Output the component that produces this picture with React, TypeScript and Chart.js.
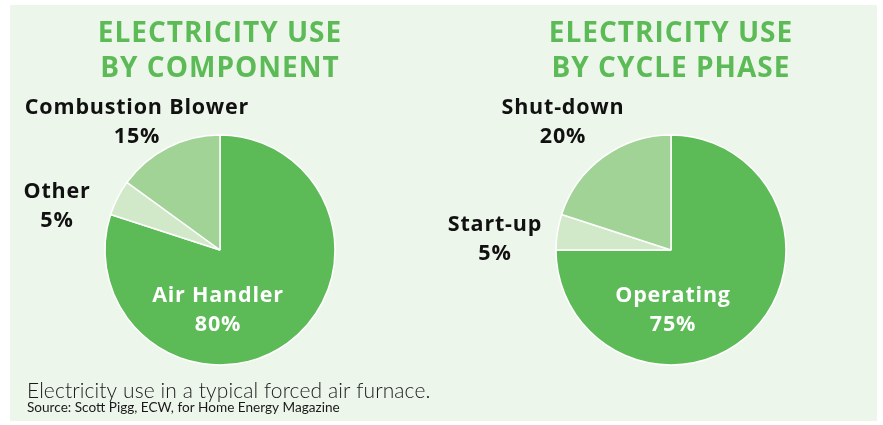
import React, { useEffect, useRef } from "react";
import { Chart, registerables } from "chart.js";

Chart.register(...registerables);

// ---- data ----
const componentCategories = ["Air Handler", "Other", "Combustion Blower"];
const componentValues = [80, 5, 15];
const phaseCategories = ["Operating", "Start-up", "Shut-down"];
const phaseValues = [75, 5, 20];
const componentTitle = ["ELECTRICITY USE", "BY COMPONENT"];
const phaseTitle = ["ELECTRICITY USE", "BY CYCLE PHASE"];
const captionText = "Electricity use in a typical forced air furnace.";
const sourceText = "Source: Scott Pigg, ECW, for Home Energy Magazine";

// ---- styles / layout ----
const sliceColors = ["#5cbb57", "#d1e9c8", "#a2d396"];
const labelColors = ["#ffffff", "#111111", "#111111"];
const titleColor = "#5cbb57";
const panelColor = "#edf6eb";
// label anchor offsets from pie centre (dx, baseline dy of first line)
const componentLabelOffsets = [
  [-2, 52],
  [-163, -52],
  [-83, -136],
];
const phaseLabelOffsets = [
  [2, 52],
  [-176, -19],
  [-108, -136],
];

type PieSpec = {
  categories: string[];
  values: number[];
  title: string[];
  offsets: number[][];
  padding: { left: number; right: number; top: number; bottom: number };
  width: number;
  caption: boolean;
};

const labelPlugin = {
  id: "customLabels",
  afterDatasetsDraw(chart: any, _args: any, opts: any) {
    const spec: PieSpec = opts.spec;
    const ctx = chart.ctx as any;
    const meta = chart.getDatasetMeta(0);
    const arc0 = meta.data[0];
    const cx = arc0.x;
    const cy = arc0.y;
    ctx.save();
    // titles
    ctx.textAlign = "center";
    ctx.textBaseline = "alphabetic";
    ctx.fillStyle = titleColor;
    ctx.font = "bold 28px 'Open Sans'";
    ctx.letterSpacing = "1px";
    ctx.fillText(spec.title[0], cx, 42);
    ctx.fillText(spec.title[1], cx, 77);
    // slice labels
    ctx.font = "bold 21.5px 'Open Sans'";
    ctx.letterSpacing = "0.8px";
    spec.categories.forEach((cat, i) => {
      const [dx, dy] = spec.offsets[i];
      ctx.fillStyle = labelColors[i];
      ctx.fillText(cat, cx + dx, cy + dy);
      ctx.fillText(spec.values[i] + "%", cx + dx, cy + dy + 29);
    });
    if (spec.caption) {
      ctx.textAlign = "left";
      ctx.fillStyle = "#1a1a1a";
      ctx.font = "300 21px Lato";
      ctx.letterSpacing = "0.1px";
      ctx.fillText(captionText, 27, 398);
      ctx.font = "13.6px Lato";
      ctx.letterSpacing = "0px";
      ctx.fillText(sourceText, 27, 412);
    }
    ctx.restore();
  },
};

function PieCanvas({ spec }: { spec: PieSpec }) {
  const ref = useRef<HTMLCanvasElement | null>(null);
  useEffect(() => {
    if (!ref.current) return;
    const chart = new Chart(ref.current, {
      type: "pie",
      data: {
        labels: spec.categories,
        datasets: [
          {
            data: spec.values,
            backgroundColor: sliceColors,
            borderColor: "#ffffff",
            borderWidth: 1.5,
          },
        ],
      },
      options: {
        animation: false,
        responsive: false,
        radius: 115,
        layout: { padding: spec.padding },
        plugins: {
          legend: { display: false },
          tooltip: { enabled: false },
          title: { display: false },
          customLabels: { spec },
        } as any,
      },
      plugins: [labelPlugin],
    });
    return () => chart.destroy();
  }, [spec]);
  return (
    <canvas
      ref={ref}
      width={spec.width}
      height={425}
      style={{ display: "block", width: spec.width, height: 425 }}
    />
  );
}

const leftSpec: PieSpec = {
  categories: componentCategories,
  values: componentValues,
  title: componentTitle,
  offsets: componentLabelOffsets,
  padding: { left: 105, right: 106, top: 135, bottom: 60 },
  width: 441,
  caption: true,
};
const rightSpec: PieSpec = {
  categories: phaseCategories,
  values: phaseValues,
  title: phaseTitle,
  offsets: phaseLabelOffsets,
  padding: { left: 115, right: 97, top: 135, bottom: 60 },
  width: 442,
  caption: false,
};

export default function App() {
  return (
    <div
      style={{
        position: "absolute",
        left: 0,
        top: 0,
        width: 883,
        height: 425,
        background: "#ffffff",
        overflow: "hidden",
      }}
    >
      <div
        style={{
          position: "absolute",
          left: 10,
          top: 5,
          width: 867,
          height: 416,
          background: panelColor,
        }}
      />
      <div style={{ position: "absolute", left: 0, top: 0 }}>
        <PieCanvas spec={leftSpec} />
      </div>
      <div style={{ position: "absolute", left: 441, top: 0 }}>
        <PieCanvas spec={rightSpec} />
      </div>
    </div>
  );
}
